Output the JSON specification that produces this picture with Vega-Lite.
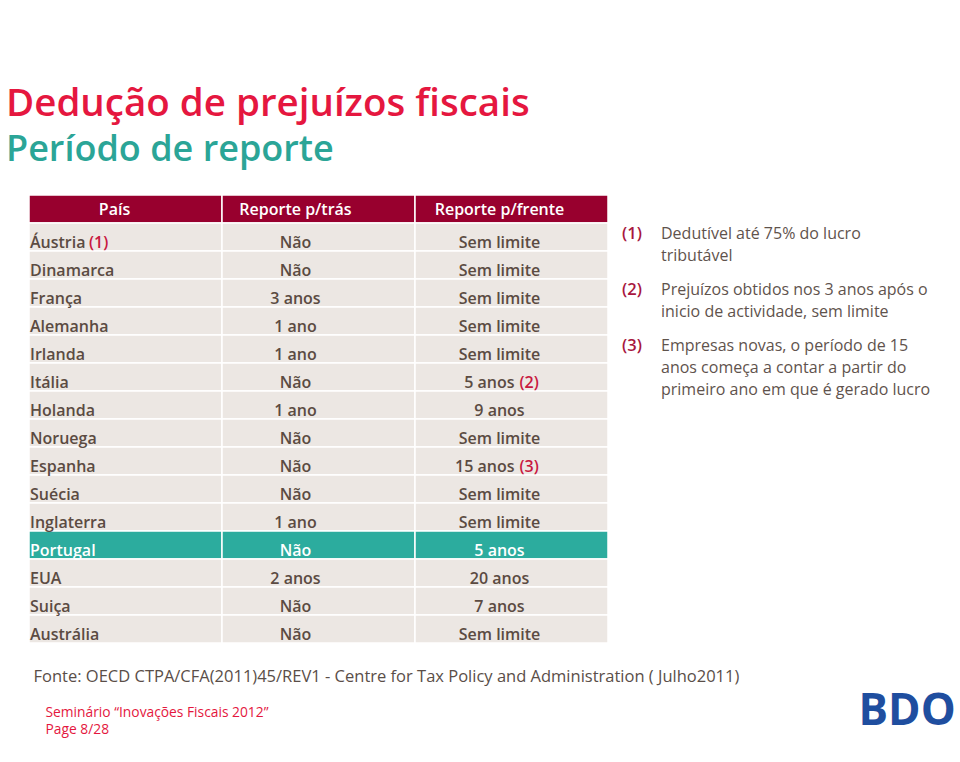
{
  "$schema": "https://vega.github.io/schema/vega-lite/v6.json",
  "width": 579,
  "height": 448,
  "autosize": {"type": "none"},
  "padding": {"left": 29, "top": 195, "right": 352, "bottom": 119},
  "background": "white",
  "config": {
    "font": "Open Sans",
    "view": {"stroke": null},
    "axis": {"labels": false, "ticks": false, "domain": false, "grid": false}
  },
  "title": {
    "text": "Dedução de prejuízos fiscais",
    "subtitle": "Período de reporte",
    "anchor": "start",
    "frame": "group",
    "dx": -23,
    "offset": 25,
    "color": "#E5173F",
    "fontSize": 38.5,
    "fontWeight": 600,
    "font": "Open Sans",
    "subtitleColor": "#2BA597",
    "subtitleFontSize": 36,
    "subtitleFontWeight": 600,
    "subtitleFont": "Open Sans",
    "subtitlePadding": 9
  },
  "datasets": {
    "tabela": [
      {"pais": "País", "tras": "Reporte p/trás", "frente": "Reporte p/frente"},
      {"pais": "Áustria", "tras": "Não", "frente": "Sem limite", "nota_pais": "(1)"},
      {"pais": "Dinamarca", "tras": "Não", "frente": "Sem limite"},
      {"pais": "França", "tras": "3 anos", "frente": "Sem limite"},
      {"pais": "Alemanha", "tras": "1 ano", "frente": "Sem limite"},
      {"pais": "Irlanda", "tras": "1 ano", "frente": "Sem limite"},
      {"pais": "Itália", "tras": "Não", "frente": "5 anos", "nota_frente": "(2)"},
      {"pais": "Holanda", "tras": "1 ano", "frente": "9 anos"},
      {"pais": "Noruega", "tras": "Não", "frente": "Sem limite"},
      {"pais": "Espanha", "tras": "Não", "frente": "15 anos", "nota_frente": "(3)"},
      {"pais": "Suécia", "tras": "Não", "frente": "Sem limite"},
      {"pais": "Inglaterra", "tras": "1 ano", "frente": "Sem limite"},
      {"pais": "Portugal", "tras": "Não", "frente": "5 anos"},
      {"pais": "EUA", "tras": "2 anos", "frente": "20 anos"},
      {"pais": "Suiça", "tras": "Não", "frente": "7 anos"},
      {"pais": "Austrália", "tras": "Não", "frente": "Sem limite"}
    ],
    "notas": [
      {"ref": "(1)", "texto": "Dedutível até 75% do lucro\ntributável", "ancora": "Áustria"},
      {"ref": "(2)", "texto": "Prejuízos obtidos nos 3 anos após o\ninicio de actividade, sem limite", "ancora": "França"},
      {"ref": "(3)", "texto": "Empresas novas, o período de 15\nanos começa a contar a partir do\nprimeiro ano em que é gerado lucro", "ancora": "Irlanda"}
    ]
  },
  "resolve": {"axis": {"y": "independent"}},
  "layer": [
    {
      "data": {"name": "tabela"},
      "transform": [{"fold": ["pais", "tras", "frente"], "as": ["coluna", "valor"]}],
      "mark": {"type": "rect", "stroke": "white", "strokeWidth": 1.5},
      "encoding": {
        "x": {
          "field": "coluna", "type": "nominal",
          "scale": {"domain": ["pais", "tras", "frente"], "paddingInner": 0, "paddingOuter": 0},
          "axis": {
            "title": "Fonte: OECD CTPA/CFA(2011)45/REV1 - Centre for Tax Policy and Administration ( Julho2011)",
            "titleX": 4, "titleY": 38, "titleAlign": "left", "titleBaseline": "alphabetic",
            "titleFontSize": 16.5, "titleFontWeight": "normal", "titleColor": "#5A4E48", "titleFont": "Open Sans"
          }
        },
        "y": {
          "field": "pais", "type": "nominal",
          "scale": {"domain": ["País", "Áustria", "Dinamarca", "França", "Alemanha", "Irlanda", "Itália", "Holanda", "Noruega", "Espanha", "Suécia", "Inglaterra", "Portugal", "EUA", "Suiça", "Austrália"], "paddingInner": 0, "paddingOuter": 0},
          "axis": {
            "orient": "left",
            "title": ["Seminário “Inovações Fiscais 2012”", "Page 8/28"],
            "titleAngle": 0, "titleX": 16, "titleY": 521, "titleAlign": "left", "titleBaseline": "alphabetic",
            "titleLineHeight": 17.5, "titleFontSize": 13.8, "titleFontWeight": "normal", "titleColor": "#E4173E", "titleFont": "Open Sans"
          }
        },
        "fill": {
          "condition": [
            {"test": "datum.pais === 'País'", "value": "#98002E"},
            {"test": "datum.pais === 'Portugal'", "value": "#2CAC9E"}
          ],
          "value": "#ECE7E3"
        }
      }
    },
    {
      "data": {"name": "tabela"},
      "transform": [
        {"fold": ["pais", "tras", "frente"], "as": ["coluna", "valor"]},
        {"filter": "datum.coluna === 'pais' && datum.pais === 'País'"}
      ],
      "mark": {"type": "text", "align": "center", "baseline": "alphabetic", "dx": -11, "dy": 6, "fontSize": 16, "fontWeight": 600, "color": "white"},
      "encoding": {
        "x": {"field": "coluna", "type": "nominal"},
        "y": {
          "field": "pais", "type": "nominal",
          "axis": {
            "orient": "right",
            "title": "BDO",
            "titleAngle": 0, "titleX": 250, "titleY": 529, "titleAlign": "left", "titleBaseline": "alphabetic",
            "titleFontSize": 44, "titleFontWeight": "bold", "titleColor": "#1F4E9F", "titleFont": "Open Sans"
          }
        },
        "text": {"field": "valor"}
      }
    },
    {
      "data": {"name": "tabela"},
      "transform": [
        {"fold": ["pais", "tras", "frente"], "as": ["coluna", "valor"]},
        {"filter": "datum.coluna === 'tras' && datum.pais === 'País'"}
      ],
      "mark": {"type": "text", "align": "center", "baseline": "alphabetic", "dx": -23, "dy": 6, "fontSize": 16, "fontWeight": 600, "color": "white"},
      "encoding": {
        "x": {"field": "coluna", "type": "nominal"},
        "y": {"field": "pais", "type": "nominal", "axis": null},
        "text": {"field": "valor"}
      }
    },
    {
      "data": {"name": "tabela"},
      "transform": [
        {"fold": ["pais", "tras", "frente"], "as": ["coluna", "valor"]},
        {"filter": "datum.coluna === 'frente' && datum.pais === 'País'"}
      ],
      "mark": {"type": "text", "align": "center", "baseline": "alphabetic", "dx": -12, "dy": 6, "fontSize": 16, "fontWeight": 600, "color": "white"},
      "encoding": {
        "x": {"field": "coluna", "type": "nominal"},
        "y": {"field": "pais", "type": "nominal", "axis": null},
        "text": {"field": "valor"}
      }
    },
    {
      "data": {"name": "tabela"},
      "transform": [
        {"fold": ["pais", "tras", "frente"], "as": ["coluna", "valor"]},
        {"filter": "datum.coluna === 'pais' && datum.pais !== 'País'"}
      ],
      "mark": {"type": "text", "align": "left", "baseline": "alphabetic", "dx": 1, "dy": 11, "fontSize": 16, "fontWeight": 600},
      "encoding": {
        "x": {"field": "coluna", "type": "nominal", "bandPosition": 0},
        "y": {"field": "pais", "type": "nominal", "axis": null},
        "text": {"field": "valor"},
        "color": {"condition": {"test": "datum.pais === 'Portugal'", "value": "white"}, "value": "#5B4B42"}
      }
    },
    {
      "data": {"name": "tabela"},
      "transform": [
        {"fold": ["pais", "tras", "frente"], "as": ["coluna", "valor"]},
        {"filter": "datum.coluna === 'pais' && datum.nota_pais"}
      ],
      "mark": {"type": "text", "align": "left", "baseline": "alphabetic", "dx": 60, "dy": 11, "fontSize": 16, "fontWeight": 600, "color": "#C8183F"},
      "encoding": {
        "x": {"field": "coluna", "type": "nominal", "bandPosition": 0},
        "y": {"field": "pais", "type": "nominal", "axis": null},
        "text": {"field": "nota_pais"}
      }
    },
    {
      "data": {"name": "tabela"},
      "transform": [
        {"fold": ["pais", "tras", "frente"], "as": ["coluna", "valor"]},
        {"filter": "datum.coluna === 'tras' && datum.pais !== 'País'"}
      ],
      "mark": {"type": "text", "align": "center", "baseline": "alphabetic", "dx": -23, "dy": 11, "fontSize": 16, "fontWeight": 600},
      "encoding": {
        "x": {"field": "coluna", "type": "nominal"},
        "y": {"field": "pais", "type": "nominal", "axis": null},
        "text": {"field": "valor"},
        "color": {"condition": {"test": "datum.pais === 'Portugal'", "value": "white"}, "value": "#5B4B42"}
      }
    },
    {
      "data": {"name": "tabela"},
      "transform": [
        {"fold": ["pais", "tras", "frente"], "as": ["coluna", "valor"]},
        {"filter": "datum.coluna === 'frente' && datum.pais !== 'País' && !datum.nota_frente"}
      ],
      "mark": {"type": "text", "align": "center", "baseline": "alphabetic", "dx": -12, "dy": 11, "fontSize": 16, "fontWeight": 600},
      "encoding": {
        "x": {"field": "coluna", "type": "nominal"},
        "y": {"field": "pais", "type": "nominal", "axis": null},
        "text": {"field": "valor"},
        "color": {"condition": {"test": "datum.pais === 'Portugal'", "value": "white"}, "value": "#5B4B42"}
      }
    },
    {
      "data": {"name": "tabela"},
      "transform": [
        {"fold": ["pais", "tras", "frente"], "as": ["coluna", "valor"]},
        {"filter": "datum.coluna === 'frente' && datum.nota_frente"}
      ],
      "mark": {"type": "text", "align": "right", "baseline": "alphabetic", "dx": 3, "dy": 11, "fontSize": 16, "fontWeight": 600, "color": "#5B4B42"},
      "encoding": {
        "x": {"field": "coluna", "type": "nominal"},
        "y": {"field": "pais", "type": "nominal", "axis": null},
        "text": {"field": "valor"}
      }
    },
    {
      "data": {"name": "tabela"},
      "transform": [
        {"fold": ["pais", "tras", "frente"], "as": ["coluna", "valor"]},
        {"filter": "datum.coluna === 'frente' && datum.nota_frente"}
      ],
      "mark": {"type": "text", "align": "left", "baseline": "alphabetic", "dx": 8, "dy": 11, "fontSize": 16, "fontWeight": 600, "color": "#C8183F"},
      "encoding": {
        "x": {"field": "coluna", "type": "nominal"},
        "y": {"field": "pais", "type": "nominal", "axis": null},
        "text": {"field": "nota_frente"}
      }
    },
    {
      "data": {"name": "notas"},
      "mark": {"type": "text", "align": "left", "baseline": "alphabetic", "dx": 14, "dy": 2, "fontSize": 16.5, "fontWeight": 600, "color": "#A8173F"},
      "encoding": {
        "x": {"datum": "frente", "type": "nominal", "bandPosition": 1},
        "y": {"field": "ancora", "type": "nominal", "axis": null},
        "text": {"field": "ref"}
      }
    },
    {
      "data": {"name": "notas"},
      "mark": {"type": "text", "align": "left", "baseline": "alphabetic", "dx": 53, "dy": 2, "fontSize": 16, "lineHeight": 22, "lineBreak": "\n", "color": "#5F534D"},
      "encoding": {
        "x": {"datum": "frente", "type": "nominal", "bandPosition": 1},
        "y": {"field": "ancora", "type": "nominal", "axis": null},
        "text": {"field": "texto"}
      }
    }
  ]
}
